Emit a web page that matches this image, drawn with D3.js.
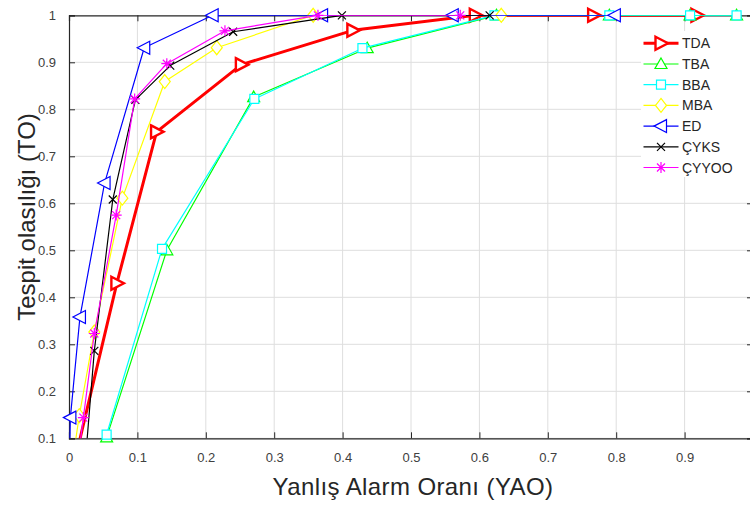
<!DOCTYPE html>
<html>
<head>
<meta charset="utf-8">
<script src="https://cdn.jsdelivr.net/npm/d3@7"></script>
<style>
  body { margin: 0; background: #fff; }
  text { font-family: "Liberation Sans", Arial, Helvetica, sans-serif; }
</style>
</head>
<body>
<div id="chart"></div>
<script>
// Data
const seriesNames = ["TDA", "TBA", "BBA", "MBA", "ED", "ÇYKS", "ÇYYOO"];

const tdaX = [0, 0.07, 0.128, 0.252, 0.415, 0.594, 0.767, 0.918];
const tdaY = [0, 0.43, 0.752, 0.895, 0.968, 1, 1, 1];

const tbaX = [0.055, 0.143, 0.27, 0.436, 0.625, 0.79, 0.908, 0.976];
const tbaY = [0.102, 0.5, 0.826, 0.93, 1, 1, 1, 1];

const bbaX = [0.055, 0.136, 0.271, 0.429, 0.622, 0.79, 0.908, 0.976];
const bbaY = [0.108, 0.503, 0.822, 0.93, 1, 1, 1, 1];

const mbaX = [0, 0.015, 0.037, 0.078, 0.14, 0.216, 0.357, 0.632];
const mbaY = [0, 0.148, 0.326, 0.611, 0.859, 0.931, 1, 1];

const edX = [0, 0.002, 0.016, 0.052, 0.11, 0.21, 0.37, 0.561, 0.798];
const edY = [0, 0.144, 0.358, 0.643, 0.931, 1, 1, 1, 1];

const cyksX = [0.021, 0.037, 0.064, 0.097, 0.148, 0.24, 0.399, 0.615];
const cyksY = [0, 0.286, 0.608, 0.82, 0.893, 0.965, 1, 1];

const cyyooX = [0.008, 0.021, 0.037, 0.069, 0.096, 0.143, 0.228, 0.364, 0.572];
const cyyooY = [0, 0.144, 0.323, 0.575, 0.822, 0.897, 0.967, 1, 1];

const xTicks = [0, 0.1, 0.2, 0.3, 0.4, 0.5, 0.6, 0.7, 0.8, 0.9, 1];
const yTicks = [0.1, 0.2, 0.3, 0.4, 0.5, 0.6, 0.7, 0.8, 0.9, 1];

const xLabel = "Yanlış Alarm Oranı (YAO)";
const yLabel = "Tespit olasılığı (TO)";

// layout
const width = 750, height = 505;
const plot = { left: 69, right: 753, top: 15.3, bottom: 438.3 };
const axisColor = "#262626";

const series = [
  { name: seriesNames[0], xs: tdaX, ys: tdaY, color: "#ff0000", lw: 3, mw: 2.4, marker: "triRight" },
  { name: seriesNames[1], xs: tbaX, ys: tbaY, color: "#00ff00", lw: 1.2, mw: 1.2, marker: "triUp" },
  { name: seriesNames[2], xs: bbaX, ys: bbaY, color: "#00ffff", lw: 1.2, mw: 1.2, marker: "square" },
  { name: seriesNames[3], xs: mbaX, ys: mbaY, color: "#ffff00", lw: 1.2, mw: 1.2, marker: "diamond" },
  { name: seriesNames[4], xs: edX, ys: edY, color: "#0000ff", lw: 1.2, mw: 1.2, marker: "triLeft" },
  { name: seriesNames[5], xs: cyksX, ys: cyksY, color: "#000000", lw: 1.2, mw: 1.2, marker: "cross" },
  { name: seriesNames[6], xs: cyyooX, ys: cyyooY, color: "#ff00ff", lw: 1.2, mw: 1.2, marker: "asterisk" }
];

// marker shapes, centred on 0,0
const markerPaths = {
  triRight: "M-5.5,-6.5L7,0L-5.5,6.5Z",
  triLeft: "M5.5,-6.5L-7,0L5.5,6.5Z",
  triUp: "M0,-6L6,4.5L-6,4.5Z",
  square: "M-4.5,-4.5H4.5V4.5H-4.5Z",
  diamond: "M0,-7L5.5,0L0,7L-5.5,0Z",
  cross: "M-4,-4L4,4M-4,4L4,-4",
  asterisk: "M0,-5.5V5.5M-5.5,0H5.5M-4,-4L4,4M-4,4L4,-4"
};
const openMarker = m => m === "cross" || m === "asterisk";

const svg = d3.select("#chart").append("svg")
    .attr("width", width)
    .attr("height", height);

const x = d3.scaleLinear().domain([0, 1]).range([plot.left, plot.right]);
const y = d3.scaleLinear().domain([0.1, 1]).range([plot.bottom, plot.top]);

svg.append("rect")
    .attr("x", plot.left).attr("y", plot.top)
    .attr("width", plot.right - plot.left).attr("height", plot.bottom - plot.top)
    .attr("fill", "#fff");

// grid
svg.append("g")
    .selectAll("line.vg")
    .data(xTicks.slice(1))
    .join("line")
    .attr("x1", d => x(d)).attr("x2", d => x(d))
    .attr("y1", plot.top).attr("y2", plot.bottom)
    .attr("stroke", "#dedede").attr("stroke-width", 1);

svg.append("g")
    .selectAll("line.hg")
    .data(yTicks.slice(0, -1))
    .join("line")
    .attr("x1", plot.left).attr("x2", plot.right)
    .attr("y1", d => y(d)).attr("y2", d => y(d))
    .attr("stroke", "#dedede").attr("stroke-width", 1);

// axes (ticks pointing inward like matlab)
// the "1" of the x axis falls off the picture's right edge, so it is left blank
const fmtX = d => (d === 1 ? "" : String(d));
const gx = svg.append("g")
    .attr("transform", `translate(0,${plot.bottom})`)
    .call(d3.axisBottom(x).tickValues(xTicks).tickSize(-6).tickPadding(14).tickFormat(fmtX));
const gxTop = svg.append("g")
    .attr("transform", `translate(0,${plot.top})`)
    .call(d3.axisTop(x).tickValues(xTicks).tickSize(-6).tickFormat(""));
const gy = svg.append("g")
    .attr("transform", `translate(${plot.left},0)`)
    .call(d3.axisLeft(y).tickValues(yTicks).tickSize(-6).tickPadding(13).tickFormat(d => String(d)));
const gyRight = svg.append("g")
    .attr("transform", `translate(${plot.right},0)`)
    .call(d3.axisRight(y).tickValues(yTicks).tickSize(-6).tickFormat(""));

[gx, gxTop, gy, gyRight].forEach(g => {
  g.select(".domain").attr("stroke", axisColor).attr("stroke-width", 1.2);
  g.selectAll(".tick line").attr("stroke", axisColor).attr("stroke-width", 1);
  g.selectAll(".tick text")
    .attr("fill", "#404040")
    .style("font-size", "13px")
    .style("font-family", '"Liberation Sans", Arial, sans-serif');
});

// clip for lines
svg.append("clipPath").attr("id", "plotclip")
  .append("rect")
    .attr("x", plot.left).attr("y", plot.top)
    .attr("width", plot.right - plot.left).attr("height", plot.bottom - plot.top);

const line = d3.line().x(d => x(d[0])).y(d => y(d[1]));

series.forEach(s => {
  const pts = s.xs.map((v, i) => [v, s.ys[i]]);
  svg.append("path")
      .datum(pts)
      .attr("clip-path", "url(#plotclip)")
      .attr("d", line)
      .attr("fill", "none")
      .attr("stroke", s.color)
      .attr("stroke-width", s.lw)
      .attr("stroke-linejoin", "round");

  svg.append("g")
    .selectAll("path")
    .data(pts.filter(d => d[1] >= 0.1 - 1e-9))
    .join("path")
      .attr("transform", d => `translate(${x(d[0])},${y(d[1])})`)
      .attr("d", markerPaths[s.marker])
      .attr("fill", openMarker(s.marker) ? "none" : "#fff")
      .attr("stroke", s.color)
      .attr("stroke-width", s.mw);
});

// legend, white box without border
const legend = svg.append("g").attr("transform", "translate(641,31)");
legend.append("rect")
    .attr("width", 112).attr("height", 146)
    .attr("fill", "#fff");

const rowH = 20.7;
series.forEach((s, i) => {
  const row = legend.append("g").attr("transform", `translate(0,${12.3 + i * rowH})`);
  row.append("line")
      .attr("x1", 2.5).attr("x2", 37.5)
      .attr("stroke", s.color).attr("stroke-width", s.lw);
  row.append("path")
      .attr("transform", "translate(20,0)")
      .attr("d", markerPaths[s.marker])
      .attr("fill", openMarker(s.marker) ? "none" : "#fff")
      .attr("stroke", s.color).attr("stroke-width", s.mw);
  row.append("text")
      .attr("x", 41).attr("y", 5)
      .attr("fill", "#262626")
      .style("font-size", "14px")
      .text(s.name);
});

// axis titles
svg.append("text")
    .attr("x", 413).attr("y", 495)
    .attr("text-anchor", "middle")
    .attr("fill", "#262626")
    .style("font-size", "24px")
    .style("letter-spacing", "0.4px")
    .text(xLabel);

svg.append("text")
    .attr("transform", "translate(35,217) rotate(-90)")
    .attr("text-anchor", "middle")
    .attr("fill", "#262626")
    .style("font-size", "24px")
    .text(yLabel);
</script>
</body>
</html>
